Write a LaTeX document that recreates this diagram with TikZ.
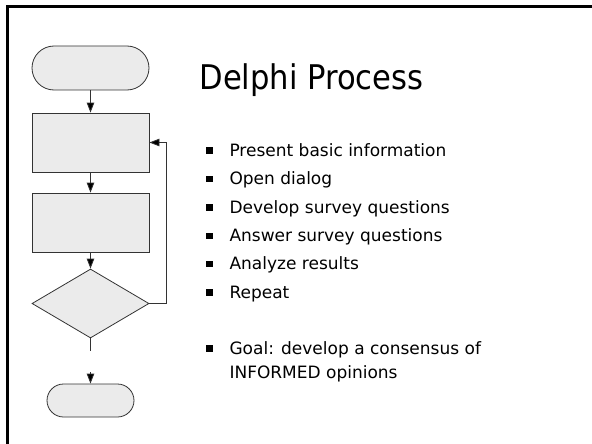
\documentclass[tikz,border=0pt]{standalone}
\usepackage{fontspec}
\setmainfont{DejaVu Sans}
\newfontfamily\titlefont{DejaVu Sans Condensed}
\usepackage{tikz}
\usetikzlibrary{shapes.geometric,arrows.meta}

\definecolor{boxfill}{HTML}{EBEBEB}
\definecolor{boxline}{HTML}{333333}

\begin{document}
\begin{tikzpicture}[x=1pt, y=-1pt,
    flow/.style={draw=boxline, fill=boxfill, line width=0.8pt, inner sep=0pt},
    term/.style={flow, rectangle, rounded corners=#1},
    proc/.style={flow, rectangle, minimum width=117pt, minimum height=59pt},
    decide/.style={flow, diamond, minimum width=117pt, minimum height=69pt},
    link/.style={draw=boxline, line width=0.8pt, -{Triangle[length=10pt,width=7.5pt,fill=black]}},
    item/.style={anchor=base west, font=\fontsize{17}{21}\selectfont},
    dot/.style={fill=black, minimum size=6.5pt, inner sep=0pt}]
                                \useasboundingbox (0,0) rectangle (592,444);
                                \draw [line width=2.5pt] (7.5,444) -- (7.5,6.5) -- (592,6.5);

                                \node (start) at (90.5,68) [term=22pt, minimum width=117pt, minimum height=44pt] {};
                                \node (info) at (90.5,142.5) [proc] {};
                                \node (survey) at (90.5,222.5) [proc] {};
                                \node (check) at (90.5,303.5) [decide] {};
                                \node (stop) at (90.5,400.5) [term=16.5pt, minimum width=87pt, minimum height=33pt] {};
                                \coordinate (gapA) at (90.5,351);
                                \coordinate (gapB) at (90.5,372);
                                \coordinate (loop) at (166.5,303.5);

                                \draw [link] (start) -- (info);
                                \draw [link] (info) -- (survey);
                                \draw [link] (survey) -- (check);
                                \draw [draw=boxline, line width=0.8pt] (check) -- (gapA);
                                \draw [link] (gapB) -- (stop);
                                \draw [link] (check.east) -- (loop) |- (info.east);

                                \node (title) at (196,90) [anchor=base west, font=\titlefont\fontsize{34}{40}\selectfont] {Delphi Process};
                                \node (t1) at (226,156) [item] {Present basic information};
                                \node (t2) at (226,184.5) [item] {Open dialog};
                                \node (t3) at (226,213) [item] {Develop survey questions};
                                \node (t4) at (226,241.5) [item] {Answer survey questions};
                                \node (t5) at (226,269.5) [item] {Analyze results};
                                \node (t6) at (226,298) [item] {Repeat};
                                \node (t7) at (226,354) [item] {Goal: develop a consensus of};
                                \node (t8) at (226,378) [item] {INFORMED opinions};
                                \foreach \n in {1,...,7}
                                    \node (b\n) at ([xshift=-16.5pt, yshift=5.5pt]t\n.base west) [dot] {};
                            \end{tikzpicture}
\end{document}
